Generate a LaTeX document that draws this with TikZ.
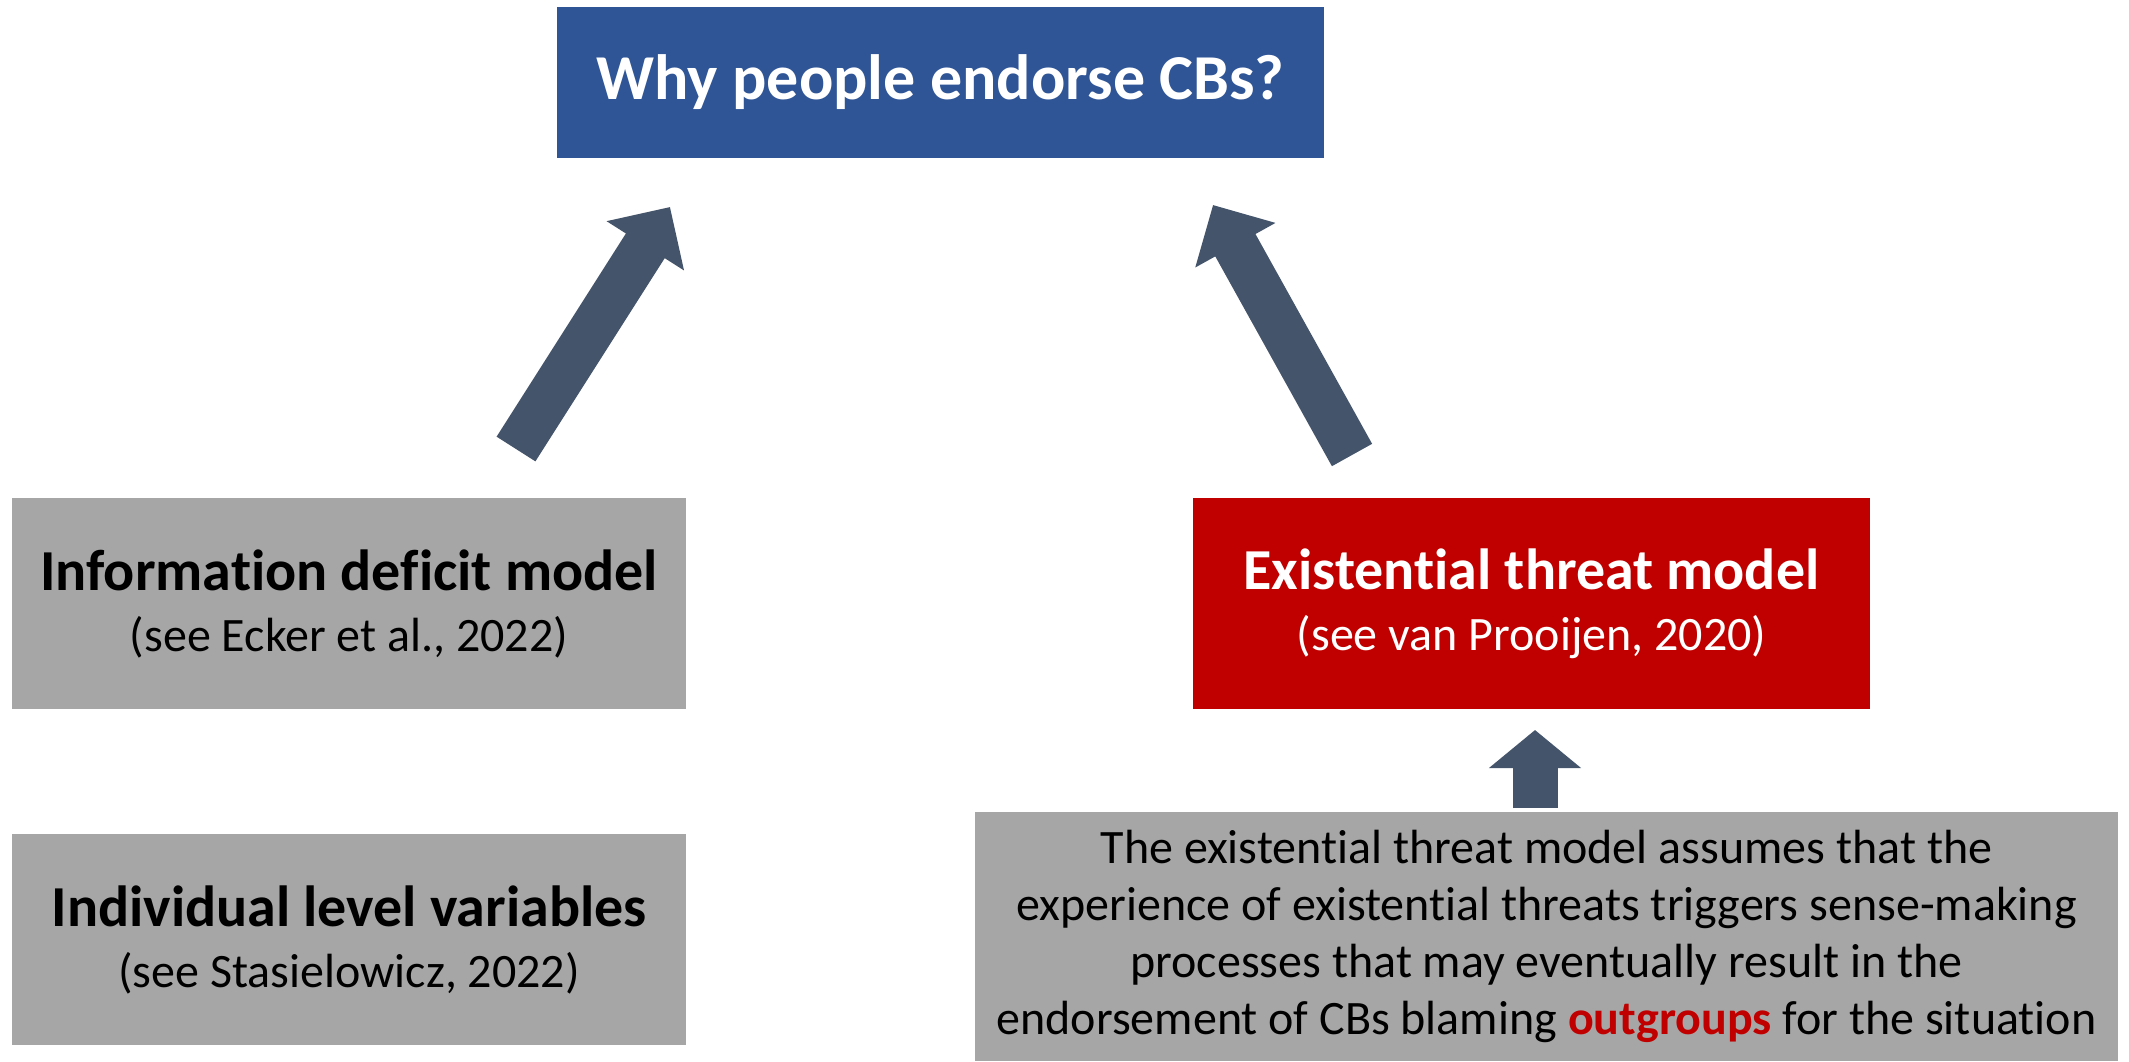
\documentclass[tikz,border=0pt]{standalone}
\usepackage{fontspec}
\setmainfont{Carlito}[Ligatures=NoCommon]
\usetikzlibrary{arrows.meta}
\definecolor{cbblue}{HTML}{2F5597}
\definecolor{cbred}{HTML}{C00000}
\definecolor{cbgray}{HTML}{A6A6A6}
\definecolor{cbarrow}{HTML}{44546A}
\tikzset{
  box/.style={rectangle, inner sep=0pt, align=center},
  twoline/.style={box, minimum width=337pt, minimum height=105.5pt,
     font=\fontsize{24}{30.5}\selectfont},
  bigarrow/.style={draw=cbarrow, line width=23pt, line cap=butt,
     -{Triangle[length=23pt, width=44.5pt, fill=cbarrow]}},
  smallarrow/.style={draw=cbarrow, line width=22.5pt, line cap=butt,
     -{Triangle[length=19pt, width=45pt, fill=cbarrow]}},
}
\newcommand{\headfont}{\fontsize{29}{30.5}\selectfont\bfseries}
\begin{document}
\begin{tikzpicture}[x=0.5pt,y=-0.5pt]
\useasboundingbox (0,0) rectangle (2129,1061);
\fill[white] (0,0) rectangle (2129,1061);

\node[box, fill=cbblue, text=white, minimum width=383.5pt, minimum height=75.5pt,
  font=\fontsize{32}{38}\selectfont\bfseries] (q) at (940.5,82.5) {Why people endorse CBs?};

\node[twoline, fill=cbgray, text=black] (idm) at (349,603.5)
  {{\headfont Information deficit model}\\ (see Ecker et al., 2022)};

\node[twoline, fill=cbgray, text=black] (ilv) at (349,939.5)
  {{\headfont Individual level variables}\\ (see Stasielowicz, 2022)};

\node[twoline, fill=cbred, text=white, minimum width=338.5pt] (etm) at (1531.5,603.5)
  {{\headfont Existential threat model}\\ (see van Prooijen, 2020)};

\node[box, fill=cbgray, text=black, minimum width=571.5pt, minimum height=124.5pt,
  font=\fontsize{24}{28.5}\selectfont] (desc) at (1546.5,936.5)
  {The existential threat model assumes that the\\
   experience of existential threats triggers sense-making\\
   processes that may eventually result in the\\
   endorsement of CBs blaming \textcolor{cbred}{\bfseries outgroups} for the situation};

\coordinate (lt) at (516,449);
\coordinate (lh) at (670,207);
\coordinate (rt) at (1352,455);
\coordinate (rh) at (1213,205);
\coordinate (st) at (1535,808);
\coordinate (sh) at (1535,730);

\draw[bigarrow] (lt) -- (lh);
\draw[bigarrow] (rt) -- (rh);
\draw[smallarrow] (st) -- (sh);
\end{tikzpicture}
\end{document}
